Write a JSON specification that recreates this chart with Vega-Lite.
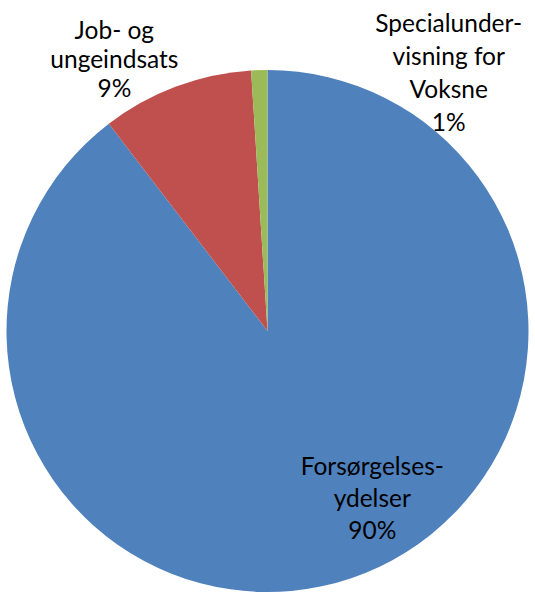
{
  "$schema": "https://vega.github.io/schema/vega-lite/v6.json",
  "width": 535,
  "height": 524,
  "padding": {"left": 0, "right": 0, "top": 69, "bottom": 3},
  "autosize": {"type": "none"},
  "background": "white",
  "config": {"view": {"stroke": null}},
  "data": {
    "values": [
      {"kategori": "Forsørgelsesydelser", "andel": 89.6, "orden": 1, "etiket": ["Forsørgelses-", "ydelser", "90%"]},
      {"kategori": "Job- og ungeindsats", "andel": 9.4, "orden": 2, "etiket": ["Job- og", "ungeindsats", "9%"]},
      {"kategori": "Specialundervisning for Voksne", "andel": 1.0, "orden": 3, "etiket": ["Specialunder-", "visning for", "Voksne", "1%"]}
    ]
  },
  "encoding": {
    "theta": {"field": "andel", "type": "quantitative", "stack": true},
    "order": {"field": "orden", "type": "quantitative"}
  },
  "layer": [
    {
      "mark": {"type": "arc", "outerRadius": 261},
      "encoding": {
        "color": {
          "field": "kategori",
          "type": "nominal",
          "scale": {
            "domain": ["Forsørgelsesydelser", "Job- og ungeindsats", "Specialundervisning for Voksne"],
            "range": ["#4F81BD", "#C0504D", "#9BBB59"]
          },
          "legend": null
        }
      }
    },
    {
      "mark": {"type": "text", "radius": 180, "dx": 47, "dy": -33, "fontSize": 24.5, "font": "Lato", "lineHeight": 32, "color": "#000000"},
      "encoding": {"text": {"condition": {"test": "datum.orden === 1", "field": "etiket"}, "value": ""}}
    },
    {
      "mark": {"type": "text", "radius": 280, "dx": -55, "dy": -37, "fontSize": 24.5, "font": "Lato", "lineHeight": 29, "color": "#000000"},
      "encoding": {"text": {"condition": {"test": "datum.orden === 2", "field": "etiket"}, "value": ""}}
    },
    {
      "mark": {"type": "text", "radius": 280, "dx": 190, "dy": -26, "fontSize": 24.5, "font": "Lato", "lineHeight": 33, "color": "#000000"},
      "encoding": {"text": {"condition": {"test": "datum.orden === 3", "field": "etiket"}, "value": ""}}
    }
  ]
}
